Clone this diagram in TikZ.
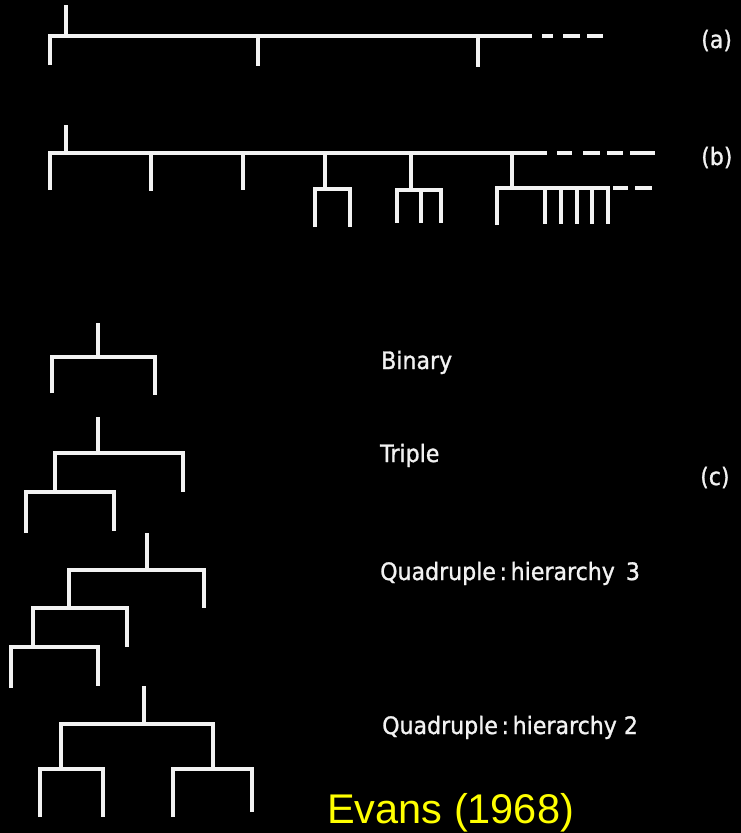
\documentclass[tikz,border=0pt]{standalone}
\usepackage{fontspec}
\setmainfont{DejaVu Sans}
\newfontfamily\labfont{DejaVu Sans}[FakeBold=1.2]
\newfontfamily\evfont{Liberation Sans}
\definecolor{linec}{RGB}{242,242,242}
\definecolor{evyellow}{RGB}{255,255,0}
\newcommand{\lbl}[1]{\scalebox{0.92}[1]{#1}}
\begin{document}
\begin{tikzpicture}[x=1pt,y=-1pt,
  br/.style={draw=linec,line width=3.4pt,line cap=butt,line join=miter},
  lab/.style={anchor=base west,inner sep=0pt,text=linec,font=\labfont\fontsize{24}{28}\selectfont},
  tag/.style={anchor=base west,inner sep=0pt,text=linec,font=\labfont\fontsize{24}{28}\selectfont}]
\fill[black] (0,0) rectangle (741,833);
\useasboundingbox (0,0) rectangle (741,833);
% (a)
\draw[br] (66,5) -- (66,36);
\draw[br] (50,65) -- (50,36) -- (532,36);
\draw[br] (258,36) -- (258,66);
\draw[br] (478,36) -- (478,67);
\foreach \a/\b in {542/553,563/580,587/603}{\draw[br] (\a,36) -- (\b,36);}
% (b)
\draw[br] (66,125) -- (66,153);
\draw[br] (50,190) -- (50,153) -- (547,153);
\draw[br] (151,153) -- (151,191);
\draw[br] (243,153) -- (243,190);
\draw[br] (325,153) -- (325,189);
\draw[br] (315,227) -- (315,189) -- (350,189) -- (350,227);
\draw[br] (411,153) -- (411,190);
\draw[br] (397,223) -- (397,190) -- (441,190) -- (441,223);
\draw[br] (421,190) -- (421,223);
\draw[br] (512,153) -- (512,188);
\draw[br] (497,225) -- (497,188) -- (608,188) -- (608,224);
\foreach \x in {545,561,577,592}{\draw[br] (\x,188) -- (\x,224);}
\foreach \a/\b in {557/572,583/600,607/623,630/655}{\draw[br] (\a,153) -- (\b,153);}
\foreach \a/\b in {613/628,635/652}{\draw[br] (\a,188) -- (\b,188);}
% Binary
\draw[br] (98,323) -- (98,357);
\draw[br] (52,393) -- (52,357) -- (155,357) -- (155,395);
% Triple
\draw[br] (98,417) -- (98,453);
\draw[br] (55,492) -- (55,453) -- (183,453) -- (183,492);
\draw[br] (26,533) -- (26,492) -- (114,492) -- (114,531);
% Quadruple hierarchy 3
\draw[br] (147,533) -- (147,570);
\draw[br] (69,608) -- (69,570) -- (204,570) -- (204,608);
\draw[br] (33,647) -- (33,608) -- (127,608) -- (127,647);
\draw[br] (11,688) -- (11,647) -- (98,647) -- (98,686);
% Quadruple hierarchy 2
\draw[br] (144,686) -- (144,724);
\draw[br] (61,769) -- (61,724) -- (213,724) -- (213,769);
\draw[br] (40,817) -- (40,769) -- (103,769) -- (103,817);
\draw[br] (173,817) -- (173,769) -- (252,769) -- (252,812);
% labels
\node[tag] (ta) at (701,48) {\lbl{(a)}};
\node[tag] (tb) at (701,165) {\lbl{(b)}};
\node[tag] (tc) at (700,485) {\lbl{(c)}};
\node[lab] (bin) at (381,369) {\lbl{Binary}};
\node[lab] (tri) at (380,462) {\lbl{Triple}};
\node[lab] (q3) at (380,580) {\lbl{Quadruple\,:\,hierarchy\hspace{0.5em}3}};
\node[lab] (q2) at (382,734) {\lbl{Quadruple\,:\,hierarchy 2}};
\node[anchor=base west,inner sep=0pt,text=evyellow,font=\evfont\fontsize{41.5}{48}\selectfont] (ev) at (327,823) {Evans (1968)};
\end{tikzpicture}
\end{document}
